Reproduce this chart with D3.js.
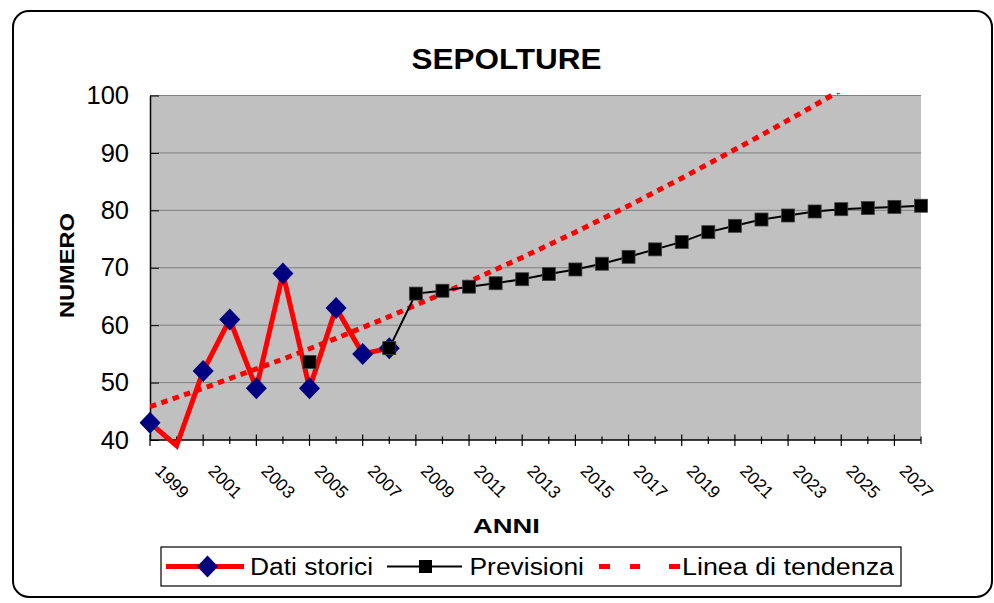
<!DOCTYPE html>
<html>
<head>
<meta charset="utf-8">
<script src="https://cdnjs.cloudflare.com/ajax/libs/d3/7.8.5/d3.min.js"></script>
<style>
    html, body { margin:0; padding:0; background:#fff; }
    svg { display:block; font-family:"Liberation Sans", Arial, sans-serif; }
</style>
</head>
<body>
<svg id="chart" width="994" height="603"></svg>
<script>
//DATA
const years = [1999, 2000, 2001, 2002, 2003, 2004, 2005, 2006, 2007, 2008,
               2009, 2010, 2011, 2012, 2013, 2014, 2015, 2016, 2017, 2018,
               2019, 2020, 2021, 2022, 2023, 2024, 2025, 2026, 2027, 2028];
// Dati storici 1999-2008
const historical = [43, 39, 52, 61, 49, 69, 49, 63, 55, 56];
// Previsioni (null = no value)
const forecast = [null, null, null, null, null, null, 53.6, null, null, 56,
                  65.5, 66.0, 66.7, 67.3, 68.0, 68.9, 69.7, 70.7, 71.9, 73.2,
                  74.5, 76.2, 77.3, 78.4, 79.1, 79.8, 80.2, 80.4, 80.6, 80.8];
// Linea di tendenza, read at each year until it leaves the plot
const trend = [45.8, 47.4, 49.0, 50.7, 52.4, 54.1, 55.9, 57.7, 59.6, 61.5,
               63.5, 65.5, 67.6, 69.7, 71.8, 74.0, 76.2, 78.5, 80.8, 83.2,
               85.6, 88.1, 90.6, 93.1, 95.7, 98.3, 101.0];
const yTicks = [40, 50, 60, 70, 80, 90, 100];
const legendLabels = ["Dati storici", "Previsioni", "Linea di tendenza"];

//DIMNS
const width = 994;
const height = 603;
const plot = { left:150, right:921, top:95.5, bottom:440 };

const svg = d3.select("#chart");

const x = d3.scaleLinear()
    .domain([0, years.length - 1])
    .range([plot.left, plot.right]);

const y = d3.scaleLinear()
    .domain([40, 100])
    .range([plot.bottom, plot.top]);

//outer frame
svg.append("rect")
    .attr("x", 13)
    .attr("y", 11)
    .attr("width", 979)
    .attr("height", 586)
    .attr("rx", 16)
    .attr("fill", "white")
    .attr("stroke", "black")
    .attr("stroke-width", 2);

//title
svg.append("text")
    .attr("x", 506.5)
    .attr("y", 68.5)
    .attr("text-anchor", "middle")
    .attr("font-size", 29)
    .attr("font-weight", "bold")
    .attr("textLength", 190)
    .attr("lengthAdjust", "spacingAndGlyphs")
    .text("SEPOLTURE");

//plot bg
svg.append("rect")
    .attr("x", plot.left)
    .attr("y", plot.top)
    .attr("width", plot.right - plot.left)
    .attr("height", plot.bottom - plot.top)
    .attr("fill", "#c0c0c0");

//gridlines
svg.append("g")
    .selectAll("line")
    .data(yTicks.filter(d => d > 40))
    .join("line")
        .attr("x1", plot.left)
        .attr("x2", plot.right)
        .attr("y1", d => y(d))
        .attr("y2", d => y(d))
        .attr("stroke", "#808080")
        .attr("stroke-width", 1);

//y axis
const yAxis = d3.axisLeft(y)
    .tickValues(yTicks)
    .tickSizeInner(-9)
    .tickSizeOuter(0)
    .tickPadding(21);

svg.append("g")
    .attr("transform", `translate(${plot.left},0)`)
    .call(yAxis)
    .call(g => g.select(".domain").attr("stroke", "black").attr("stroke-width", 1.5))
    .call(g => g.selectAll(".tick line").attr("stroke", "black"))
    .call(g => g.selectAll(".tick text")
        .attr("font-size", 25.5)
        .attr("font-family", "Liberation Sans, Arial, sans-serif")
        .attr("fill", "black"));

//x axis: every year a tick, long tick + label every 2nd year
const xAxisG = svg.append("g").attr("class", "x-axis");

xAxisG.append("line")
    .attr("x1", plot.left)
    .attr("x2", plot.right)
    .attr("y1", plot.bottom)
    .attr("y2", plot.bottom)
    .attr("stroke", "black")
    .attr("stroke-width", 1.5);

xAxisG.selectAll("line.tick")
    .data(years)
    .join("line")
        .attr("class", "tick")
        .attr("x1", (d,i) => x(i))
        .attr("x2", (d,i) => x(i))
        .attr("y1", (d,i) => plot.bottom - (i % 2 === 0 ? 5.5 : 3.5))
        .attr("y2", (d,i) => plot.bottom + (i % 2 === 0 ? 6 : 4))
        .attr("stroke", "black")
        .attr("stroke-width", 1.2);

xAxisG.selectAll("text")
    .data(years.map((d,i) => ({ year:d, i })).filter(d => d.i % 2 === 0))
    .join("text")
        .attr("transform", d => `translate(${x(d.i) + 4},${plot.bottom + 32}) rotate(45)`)
        .attr("font-size", 17.5)
        .text(d => d.year);

//axis titles
svg.append("text")
    .attr("x", 506.5)
    .attr("y", 533)
    .attr("text-anchor", "middle")
    .attr("font-size", 21)
    .attr("font-weight", "bold")
    .attr("textLength", 67)
    .attr("lengthAdjust", "spacingAndGlyphs")
    .text("ANNI");

svg.append("text")
    .attr("transform", "translate(73.5,265.5) rotate(-90)")
    .attr("text-anchor", "middle")
    .attr("font-size", 21)
    .attr("font-weight", "bold")
    .attr("textLength", 105)
    .attr("lengthAdjust", "spacingAndGlyphs")
    .text("NUMERO");

//series
const diamond = "M0,-11L10.5,0L0,11L-10.5,0Z";
const histLine = d3.line()
    .x((d,i) => x(i))
    .y(d => y(d));

const seriesG = svg.append("g").attr("class", "series");

seriesG.append("path")
    .datum(historical)
    .attr("d", histLine)
    .attr("fill", "none")
    .attr("stroke", "#ff0000")
    .attr("stroke-width", 5)
    .attr("stroke-linejoin", "miter");

seriesG.selectAll("path.hist-marker")
    .data(historical.map((v,i) => ({ v, i })).filter(d => d.v >= y.domain()[0]))
    .join("path")
        .attr("class", "hist-marker")
        .attr("d", diamond)
        .attr("transform", d => `translate(${x(d.i)},${y(d.v)})`)
        .attr("fill", "#000080");

//trend line, clipped to the plot area
svg.append("clipPath")
    .attr("id", "plot-clip")
    .append("rect")
        .attr("x", plot.left)
        .attr("y", plot.top - 2.5)
        .attr("width", plot.right - plot.left)
        .attr("height", plot.bottom - plot.top + 2.5);

seriesG.append("path")
    .datum(trend)
    .attr("clip-path", "url(#plot-clip)")
    .attr("d", d3.line().x((d,i) => x(i)).y(d => y(d)).curve(d3.curveMonotoneX))
    .attr("fill", "none")
    .attr("stroke", "#ff0000")
    .attr("stroke-width", 5)
    .attr("stroke-dasharray", "6.5,5.5");

const forecastLine = d3.line()
    .defined(d => d !== null)
    .x((d,i) => x(i))
    .y(d => y(d));

seriesG.append("path")
    .datum(forecast)
    .attr("d", forecastLine)
    .attr("fill", "none")
    .attr("stroke", "black")
    .attr("stroke-width", 2);

seriesG.selectAll("rect.fc-marker")
    .data(forecast.map((v,i) => ({ v, i })).filter(d => d.v !== null))
    .join("rect")
        .attr("class", "fc-marker")
        .attr("x", d => x(d.i) - 6.5)
        .attr("y", d => y(d.v) - 6.5)
        .attr("width", 13)
        .attr("height", 13)
        .attr("fill", "black")
        .attr("stroke", "#404040")
        .attr("stroke-width", 0.8);

//legend
const legendG = svg.append("g").attr("class", "legend");

legendG.append("rect")
    .attr("x", 161)
    .attr("y", 547)
    .attr("width", 740)
    .attr("height", 39)
    .attr("fill", "white")
    .attr("stroke", "black")
    .attr("stroke-width", 1.2);

const ly = 566.5;

legendG.append("line")
    .attr("x1", 166).attr("x2", 244)
    .attr("y1", ly).attr("y2", ly)
    .attr("stroke", "#ff0000")
    .attr("stroke-width", 5);
legendG.append("path")
    .attr("d", diamond)
    .attr("transform", `translate(207.5,${ly})`)
    .attr("fill", "#000080");

legendG.append("line")
    .attr("x1", 387).attr("x2", 462)
    .attr("y1", ly).attr("y2", ly)
    .attr("stroke", "black")
    .attr("stroke-width", 2);
legendG.append("rect")
    .attr("x", 425.5 - 6.5)
    .attr("y", ly - 6.5)
    .attr("width", 13)
    .attr("height", 13)
    .attr("fill", "black");

legendG.append("line")
    .attr("x1", 599).attr("x2", 680)
    .attr("y1", ly).attr("y2", ly)
    .attr("stroke", "#ff0000")
    .attr("stroke-width", 5)
    .attr("stroke-dasharray", "11,20,10,29");

const legendTextPos = [
    { x:250, len:123 },
    { x:469.5, len:114.5 },
    { x:682, len:212 }
];

legendG.selectAll("text")
    .data(legendLabels)
    .join("text")
        .attr("x", (d,i) => legendTextPos[i].x)
        .attr("y", 575)
        .attr("font-size", 23)
        .attr("textLength", (d,i) => legendTextPos[i].len)
        .attr("lengthAdjust", "spacingAndGlyphs")
        .text(d => d);
</script>
</body>
</html>
